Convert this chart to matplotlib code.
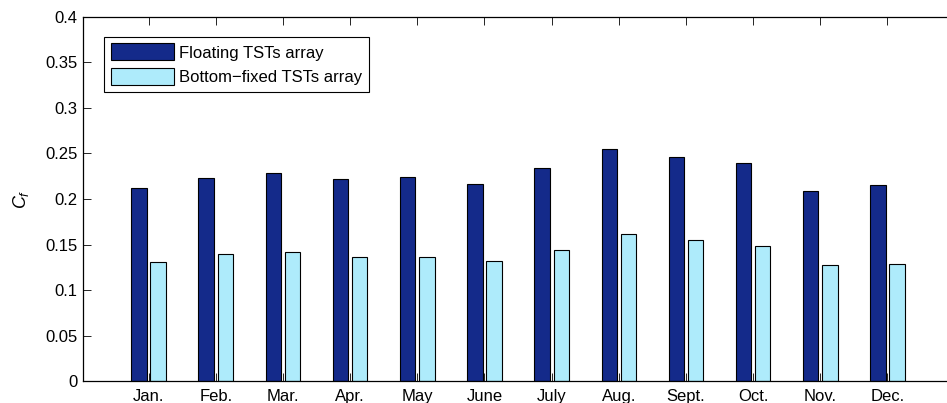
import numpy as np
import matplotlib
matplotlib.use("Agg")
import matplotlib.pyplot as plt
from matplotlib.patches import Rectangle
from matplotlib.legend_handler import HandlerPatch

plt.rcParams['font.family'] = ['Liberation Sans', 'DejaVu Sans']
plt.rcParams['mathtext.fontset'] = 'custom'
plt.rcParams['mathtext.rm'] = 'Liberation Sans'
plt.rcParams['mathtext.it'] = 'Liberation Sans:italic'

# monthly capacity factor of the two array layouts
months = ['Jan.', 'Feb.', 'Mar.', 'Apr.', 'May', 'June',
          'July', 'Aug.', 'Sept.', 'Oct.', 'Nov.', 'Dec.']
floating = [0.212, 0.223, 0.228, 0.2215, 0.2245, 0.2167,
            0.2335, 0.255, 0.246, 0.2397, 0.209, 0.2156]
bottom_fixed = [0.1305, 0.140, 0.1414, 0.1366, 0.1366, 0.1322,
                0.1443, 0.1612, 0.1553, 0.1487, 0.1275, 0.129]

x = np.arange(1, len(months) + 1)
# grouped bar layout, two series per group
offset = 0.1428
width = 0.2286


def legend_box(legend, orig_handle, xdescent, ydescent, w, h, fontsize):
    # leave a little room on the left of each legend swatch
    shift = 0.38 * fontsize
    return Rectangle((-xdescent + shift, -ydescent), w - shift, h)


fig = plt.figure(figsize=(9.47, 4.03), dpi=100)
ax = fig.add_axes([0.0876, 0.0538, 0.9205, 0.9052])

ax.bar(x - offset, floating, width, color='#142a8a', edgecolor='black',
       linewidth=0.8, label='Floating TSTs array')
ax.bar(x + offset, bottom_fixed, width, color='#aeebfb', edgecolor='black',
       linewidth=0.8, label='Bottom\u2212fixed TSTs array')

ax.set_xlim(0.024, 13)
ax.set_ylim(0, 0.4)
ax.set_xticks(x)
ax.set_xticklabels(months)
ax.set_yticks(np.arange(0, 0.401, 0.05))
ax.set_yticklabels(['0', '0.05', '0.1', '0.15', '0.2', '0.25', '0.3', '0.35', '0.4'])
ax.set_axisbelow(False)

ax.tick_params(direction='in', top=True, right=True, length=5.5, width=0.6,
               labelsize=12, colors='black')
ax.tick_params(axis='x', pad=5.5)
ax.tick_params(axis='y', pad=4)
for s in ax.spines.values():
    s.set_linewidth(0.9)

ax.set_ylabel('$C_f$', fontsize=13, labelpad=10)

leg = ax.legend(loc='upper left', bbox_to_anchor=(0.0244, 0.9446),
                borderaxespad=0, fancybox=False, edgecolor='black',
                framealpha=1, fontsize=12, handlelength=3.78,
                handleheight=1.2, handletextpad=0.3, labelspacing=0.45,
                borderpad=0.4,
                handler_map={Rectangle: HandlerPatch(patch_func=legend_box)})
leg.get_frame().set_linewidth(0.8)

fig.savefig('out.png', dpi=100)
